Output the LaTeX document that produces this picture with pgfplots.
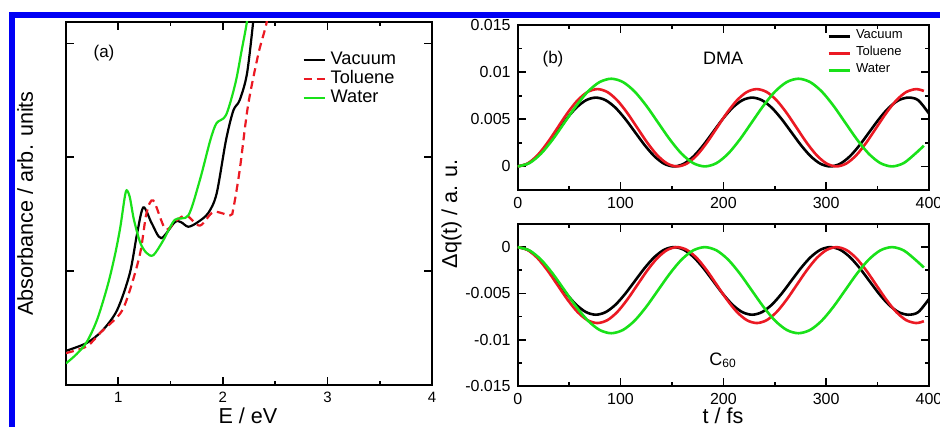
\documentclass[border=0pt]{standalone}
\usepackage{fontspec}
\setmainfont{Liberation Sans}
\usepackage{pgfplots}
\usepackage{pgfplotstable}
\pgfplotsset{compat=1.18}

\definecolor{cgreen}{RGB}{25,225,25}
\definecolor{cred}{RGB}{235,25,35}
\definecolor{frameblue}{RGB}{0,0,245}

% absorbance spectra, panel (a)
\pgfplotstableread{
E y
0.50 0.30
0.70 0.37
0.85 0.48
0.99 0.66
1.11 0.98
1.18 1.33
1.24 1.56
1.32 1.42
1.41 1.29
1.54 1.43
1.60 1.43
1.67 1.39
1.76 1.43
1.86 1.51
1.94 1.68
2.03 2.15
2.10 2.41
2.16 2.50
2.23 2.73
2.29 3.19
2.32 3.50
}\vacabs
\pgfplotstableread{
E y
0.50 0.28
0.70 0.34
0.83 0.46
1.02 0.63
1.11 0.83
1.21 1.16
1.27 1.51
1.335 1.62
1.45 1.37
1.55 1.44
1.65 1.49
1.78 1.40
1.91 1.52
2.07 1.49
2.10 1.55
2.16 1.88
2.24 2.45
2.34 2.91
2.42 3.19
2.45 3.45
}\tolabs
\pgfplotstableread{
E y
0.50 0.19
0.60 0.27
0.70 0.38
0.80 0.58
0.90 0.88
0.97 1.15
1.02 1.39
1.06 1.64
1.08 1.71
1.11 1.65
1.15 1.45
1.21 1.25
1.27 1.16
1.335 1.14
1.43 1.27
1.54 1.45
1.67 1.49
1.78 1.80
1.88 2.15
1.94 2.30
2.03 2.37
2.12 2.65
2.18 2.94
2.23 3.19
2.26 3.45
}\watabs

% charge transfer dq(t): DMA (up) and C60 (lo)
\pgfplotstableread{
t up lo
0 0 0
9.5 0.000278 -0.000278
19 0.001069 -0.001069
28.5 0.002253 -0.002253
38 0.00365 -0.00365
47.5 0.005047 -0.005047
57 0.006231 -0.006231
66.5 0.007022 -0.007022
76 0.0073 -0.0073
85.5 0.007022 -0.007022
95 0.006231 -0.006231
104.5 0.005047 -0.005047
114 0.00365 -0.00365
123.5 0.002253 -0.002253
133 0.001069 -0.001069
142.5 0.000278 -0.000278
152 0 0
161.5 0.000278 -0.000278
171 0.001069 -0.001069
180.5 0.002253 -0.002253
190 0.00365 -0.00365
199.5 0.005047 -0.005047
209 0.006231 -0.006231
218.5 0.007022 -0.007022
228 0.0073 -0.0073
237.5 0.007022 -0.007022
247 0.006231 -0.006231
256.5 0.005047 -0.005047
266 0.00365 -0.00365
275.5 0.002253 -0.002253
285 0.001069 -0.001069
294.5 0.000278 -0.000278
304 0 0
313.5 0.000278 -0.000278
323 0.001069 -0.001069
332.5 0.002253 -0.002253
342 0.00365 -0.00365
351.5 0.005047 -0.005047
361 0.006231 -0.006231
370.5 0.007022 -0.007022
380 0.0073 -0.0073
389.5 0.007022 -0.007022
400 0.0056 -0.0056
}\vacdq
\pgfplotstableread{
t up lo
0 0 0
9.69 0.000312 -0.000312
19.38 0.001201 -0.001201
29.06 0.002531 -0.002531
38.75 0.0041 -0.0041
48.44 0.005669 -0.005669
58.13 0.006999 -0.006999
67.81 0.007888 -0.007888
77.5 0.0082 -0.0082
87.19 0.007888 -0.007888
96.88 0.006999 -0.006999
106.56 0.005669 -0.005669
116.25 0.0041 -0.0041
125.94 0.002531 -0.002531
135.63 0.001201 -0.001201
145.31 0.000312 -0.000312
155 0 0
164.69 0.000312 -0.000312
174.38 0.001201 -0.001201
184.06 0.002531 -0.002531
193.75 0.0041 -0.0041
203.44 0.005669 -0.005669
213.13 0.006999 -0.006999
222.81 0.007888 -0.007888
232.5 0.0082 -0.0082
242.19 0.007888 -0.007888
251.88 0.006999 -0.006999
261.56 0.005669 -0.005669
271.25 0.0041 -0.0041
280.94 0.002531 -0.002531
290.63 0.001201 -0.001201
300.31 0.000312 -0.000312
310 0 0
319.69 0.000312 -0.000312
329.38 0.001201 -0.001201
339.06 0.002531 -0.002531
348.75 0.0041 -0.0041
358.44 0.005669 -0.005669
368.13 0.006999 -0.006999
377.81 0.007888 -0.007888
387.5 0.0082 -0.0082
395 0.0080 -0.0080
}\toldq
\pgfplotstableread{
t up lo
0 0 0
11.38 0.000354 -0.000354
22.75 0.001362 -0.001362
34.13 0.002871 -0.002871
45.5 0.00465 -0.00465
56.88 0.006429 -0.006429
68.25 0.007938 -0.007938
79.63 0.008946 -0.008946
91 0.0093 -0.0093
102.38 0.008946 -0.008946
113.75 0.007938 -0.007938
125.13 0.006429 -0.006429
136.5 0.00465 -0.00465
147.88 0.002871 -0.002871
159.25 0.001362 -0.001362
170.63 0.000354 -0.000354
182 0 0
193.38 0.000354 -0.000354
204.75 0.001362 -0.001362
216.13 0.002871 -0.002871
227.5 0.00465 -0.00465
238.88 0.006429 -0.006429
250.25 0.007938 -0.007938
261.63 0.008946 -0.008946
273 0.0093 -0.0093
284.38 0.008946 -0.008946
295.75 0.007938 -0.007938
307.13 0.006429 -0.006429
318.5 0.00465 -0.00465
329.88 0.002871 -0.002871
341.25 0.001362 -0.001362
352.63 0.000354 -0.000354
364 0 0
375.38 0.000354 -0.000354
386.75 0.001362 -0.001362
395 0.0022 -0.0022
}\watdq

\pgfplotsset{
  panel/.style={
    scale only axis,
    axis line style={line width=0.8pt},
    every tick/.style={line width=0.8pt, black},
    major tick length=4pt,
    minor tick length=2pt,
    scaled y ticks=false,
    /pgf/number format/assume math mode=true,
    legend cell align=left,
    legend style={draw=none, fill=none, inner sep=0pt},
  },
}

\begin{document}
\begin{tikzpicture}[x=1pt,y=1pt]
\clip (0,0) rectangle (470,213.5);

% panel (a)
\begin{axis}[panel,
    at={(33pt,21pt)}, anchor=south west,
    width=183pt, height=181.6pt,
    xmin=0.5, xmax=4, ymin=0, ymax=3.19,
    xtick={1,2,3,4}, minor xtick={1.5,2.5,3.5},
    ytick={0,1,2,3}, yticklabels={},
    tick label style={font=\fontsize{7.5}{9}\selectfont},
    legend style={at={(0.645,0.921)}, anchor=north west,
      font=\fontsize{9.1}{10}\selectfont,
      nodes={inner xsep=2.5pt, inner ysep=0pt, text height=6.6pt, text depth=2.9pt}},
    legend image code/.code={\draw[#1] (0pt,0pt) -- (10.5pt,0pt);},
    every axis plot/.append style={line width=1.1pt},
  ]
\addplot[black, smooth] table[x=E, y=y] {\vacabs};
\addlegendentry{Vacuum}
\addplot[cred, smooth, dash pattern=on 4pt off 2.5pt] table[x=E, y=y] {\tolabs};
\addlegendentry{Toluene}
\addplot[cgreen, smooth] table[x=E, y=y] {\watabs};
\addlegendentry{Water}
\end{axis}

% panel (b), DMA
\begin{axis}[panel,
    at={(258.85pt,118.5pt)}, anchor=south west,
    width=205.65pt, height=82.5pt,
    xmin=0, xmax=400, ymin=-0.0025, ymax=0.015,
    xtick={0,100,200,300,400}, minor xtick={50,150,250,350},
    ytick={0,0.005,0.01,0.015}, yticklabels={0,0.005,0.01,0.015},
    minor ytick={0.0025,0.0075,0.0125},
    tick label style={font=\fontsize{8}{9}\selectfont},
    legend style={at={(0.752,0.985)}, anchor=north west,
      font=\fontsize{6.5}{7.5}\selectfont,
      nodes={inner xsep=2.5pt, inner ysep=0pt, text height=5.5pt, text depth=3pt}},
    legend image code/.code={\draw[#1] (0pt,0pt) -- (10.5pt,0pt);},
    every axis plot/.append style={line width=1.3pt},
  ]
\addplot[black, smooth] table[x=t, y=up] {\vacdq};
\addlegendentry{Vacuum}
\addplot[cred, smooth] table[x=t, y=up] {\toldq};
\addlegendentry{Toluene}
\addplot[cgreen, smooth] table[x=t, y=up] {\watdq};
\addlegendentry{Water}
\end{axis}

% panel (b), C60
\begin{axis}[panel,
    at={(258.85pt,20.5pt)}, anchor=south west,
    width=205.65pt, height=81pt,
    xmin=0, xmax=400, ymin=-0.015, ymax=0.0025,
    xtick={0,100,200,300,400}, minor xtick={50,150,250,350},
    ytick={-0.015,-0.01,-0.005,0}, yticklabels={-0.015,-0.01,-0.005,0},
    minor ytick={-0.0125,-0.0075,-0.0025},
    tick label style={font=\fontsize{8}{9}\selectfont},
    every axis plot/.append style={line width=1.3pt},
  ]
\addplot[black, smooth] table[x=t, y=lo] {\vacdq};
\addplot[cred, smooth] table[x=t, y=lo] {\toldq};
\addplot[cgreen, smooth] table[x=t, y=lo] {\watdq};
\end{axis}

% labels and panel tags
\node[rotate=90, anchor=base, font=\fontsize{10.8}{12}\selectfont] at (16.5,111.8) {Absorbance / arb. units};
\node[rotate=90, anchor=base, font=\fontsize{10.8}{12}\selectfont] at (228.5,106.5) {Δq(t) / a. u.};
\node[anchor=base, font=\fontsize{10.8}{12}\selectfont] at (124,1.5) {E / eV};
\node[anchor=base, font=\fontsize{10.8}{12}\selectfont] at (361.5,1.5) {t / fs};
\node[font=\fontsize{8.5}{10}\selectfont] at (52,187) {(a)};
\node[font=\fontsize{8.5}{10}\selectfont] at (276.5,184) {(b)};
\node[font=\fontsize{9}{10}\selectfont] at (361.5,184.5) {DMA};
\node[font=\fontsize{9}{10}\selectfont] at (361.5,33.5) {C\textsubscript{60}};

% blue frame
\draw[frameblue, line width=3pt, line join=miter] (6,-5) -- (6,206) -- (480,206);
\end{tikzpicture}
\end{document}
